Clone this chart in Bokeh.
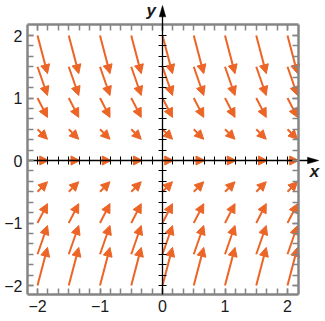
from bokeh.plotting import figure
from bokeh.models import (LinearAxis, FixedTicker, Arrow, NormalHead,
                          ColumnDataSource, Range1d, Label)
from bokeh.embed import file_html
from bokeh.resources import INLINE

# ---- data ----
xs = [-2, -1.5, -1, -0.5, 0, 0.5, 1, 1.5, 2]
ys = [2, 1.5, 1, 0.5, 0, -0.5, -1, -1.5, -2]
u_row = [0.16, 0.16, 0.16, 0.16, 0.18, 0.16, 0.16, 0.16, 0.16]
v_row = [-0.61, -0.46, -0.31, -0.16, 0.0, 0.16, 0.31, 0.46, 0.61]

tick_values = [-2, -1, 0, 1, 2]
tick_labels = ["\u22122", "\u22121", "0", "1", "2"]
minor_ticks = [k / 6 for k in range(-12, 13)]

ORANGE = "#EC6426"
GRAY = "#858585"
FONT = "Liberation Sans"

# box & axis extents (data units)
BOX_L, BOX_R, BOX_B, BOX_T = -2.16, 2.18, -2.15, 2.18
X_TIP, Y_TIP = 2.50, 2.48
HEAD_L, HEAD_W = 0.18, 0.052

p = figure(width=325, height=321,
           x_range=Range1d(-2.592, 2.608), y_range=Range1d(-2.576, 2.56),
           x_axis_type=None, y_axis_type=None,
           output_backend="svg", toolbar_location=None, min_border=0)
p.outline_line_color = None
p.background_fill_color = "white"

# ---- vector field ----
x0, y0, x1, y1 = [], [], [], []
for yv, u, v in zip(ys, u_row, v_row):
    for xv in xs:
        x0.append(xv); y0.append(yv)
        x1.append(xv + u); y1.append(yv + v)
src = ColumnDataSource(dict(x0=x0, y0=y0, x1=x1, y1=y1))
p.add_layout(Arrow(source=src, x_start="x0", y_start="y0", x_end="x1", y_end="y1",
                   line_color=ORANGE, line_width=2, level="underlay",
                   end=NormalHead(size=9, fill_color=ORANGE, line_color=ORANGE,
                                  line_width=1)))

overrides = {t: l for t, l in zip(tick_values, tick_labels)}
blank = {t: "" for t in tick_values}


def box_axis(loc, bounds, labels):
    ax = LinearAxis(fixed_location=loc, bounds=bounds,
                    ticker=FixedTicker(ticks=tick_values, minor_ticks=minor_ticks),
                    axis_line_color=GRAY, axis_line_width=2.5,
                    major_tick_line_color=GRAY, minor_tick_line_color=GRAY,
                    major_tick_line_width=1.5, minor_tick_line_width=1.5,
                    major_tick_in=6, major_tick_out=0,
                    minor_tick_in=6, minor_tick_out=0,
                    major_label_standoff=5,
                    major_label_text_font=FONT,
                    major_label_text_font_size="16px" if labels else "0px",
                    major_label_text_color="#1a1a1a",
                    major_label_overrides=overrides if labels else blank)
    return ax


p.add_layout(box_axis(BOX_L, (BOX_B, BOX_T), True), "left")
p.add_layout(box_axis(BOX_B, (BOX_L, BOX_R), True), "below")
p.add_layout(box_axis(BOX_R, (BOX_B, BOX_T), False), "right")
p.add_layout(box_axis(BOX_T, (BOX_L, BOX_R), False), "above")


def center_axis(bounds):
    return LinearAxis(fixed_location=0, bounds=bounds,
                      ticker=FixedTicker(ticks=minor_ticks, minor_ticks=[]),
                      axis_line_color="black", axis_line_width=1.3,
                      major_tick_line_color="black", major_tick_line_width=1,
                      major_tick_in=4, major_tick_out=4,
                      minor_tick_in=0, minor_tick_out=0,
                      major_label_text_font_size="0px",
                      major_label_overrides={t: "" for t in minor_ticks})


p.add_layout(center_axis((BOX_L, X_TIP - 0.05)), "below")
p.add_layout(center_axis((BOX_B, Y_TIP - 0.05)), "left")

# axis arrowheads
p.patch(x=[X_TIP, X_TIP - HEAD_L, X_TIP - HEAD_L], y=[0, HEAD_W, -HEAD_W],
        color="black", line_width=0.5)
p.patch(x=[0, HEAD_W, -HEAD_W], y=[Y_TIP, Y_TIP - HEAD_L, Y_TIP - HEAD_L],
        color="black", line_width=0.5)

p.add_layout(Label(x=2.43, y=-0.18, text="x", text_font=FONT, text_font_size="17px",
                   text_font_style="bold italic", text_align="center",
                   text_baseline="middle", text_color="#1a1a1a"))
p.add_layout(Label(x=-0.18, y=2.40, text="y", text_font=FONT, text_font_size="17px",
                   text_font_style="bold italic", text_align="center",
                   text_baseline="middle", text_color="#1a1a1a"))

open("out.html", "w").write(file_html(p, INLINE))
